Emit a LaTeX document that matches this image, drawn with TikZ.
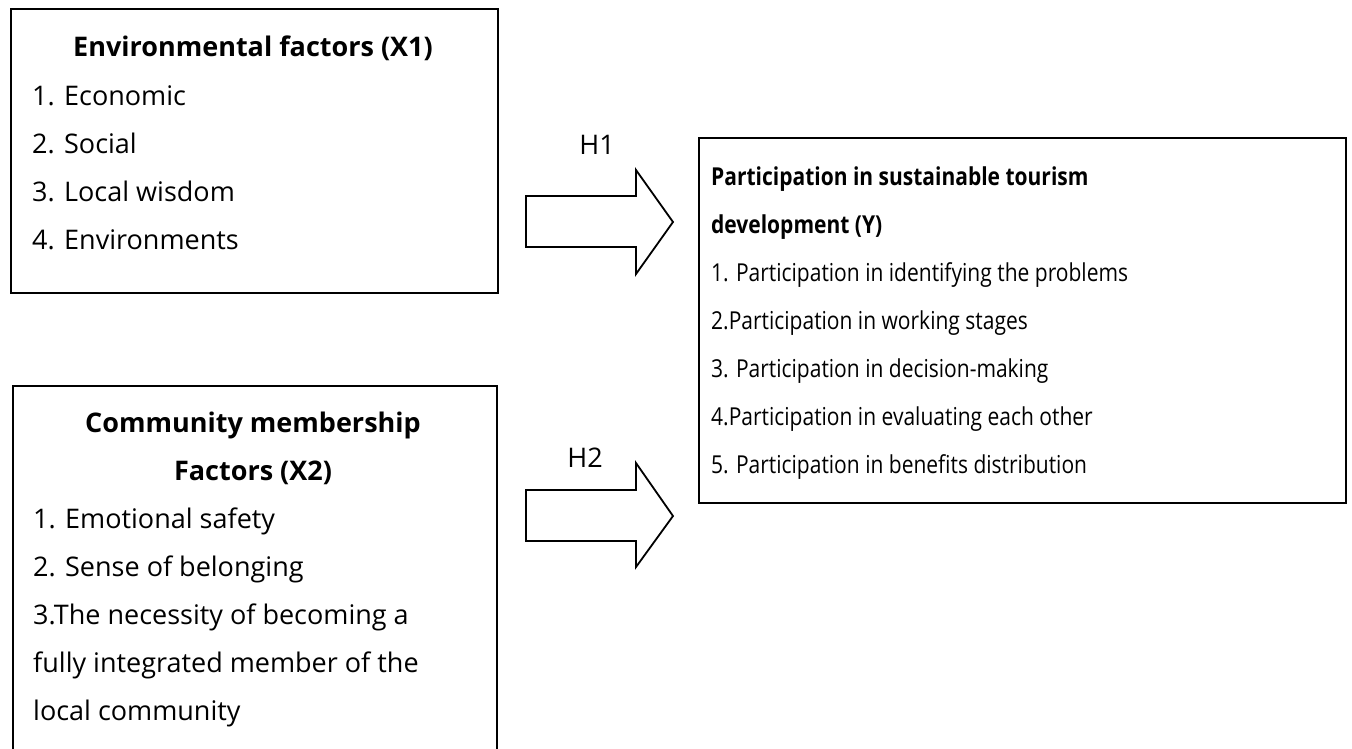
\documentclass[tikz,border=0pt]{standalone}
\usepackage{fontspec}
\setmainfont{Open Sans}
\newfontfamily\yfont{Open Sans}[FakeStretch=0.85]
\begin{document}
\begin{tikzpicture}[x=1pt,y=-1pt,
  box/.style={draw, line width=1.8pt, inner sep=0pt, anchor=north west},
  item/.style={font=\fontsize{27}{30}\selectfont, inner sep=0pt, anchor=base west},
  ttl/.style={font=\bfseries\fontsize{27}{30}\selectfont, inner sep=0pt, anchor=base},
  yitem/.style={font=\yfont\fontsize{24.7}{30}\selectfont, inner sep=0pt, anchor=base west},
  yttl/.style={font=\yfont\bfseries\fontsize{24.7}{30}\selectfont, inner sep=0pt, anchor=base west},
  hlab/.style={font=\fontsize{27}{30}\selectfont, inner sep=0pt},
  blockarrow/.style={draw, line width=1.8pt, line join=miter}]
\useasboundingbox (0,0) rectangle (1352,748);
\clip (0,0) rectangle (1352,748);
% Box X1
\node[box, minimum width=487pt, minimum height=284pt] (x1) at (10,8) {};
\node[ttl] (x1t) at (253,56) {Environmental factors (X1)};
\node[item] (x1a) at (32,105) {1. Economic};
\node[item] (x1b) at (32,153) {2. Social};
\node[item] (x1c) at (32,201) {3. Local wisdom};
\node[item] (x1d) at (32,249) {4. Environments};
% Box X2
\node[box, minimum width=484pt, minimum height=400pt] (x2) at (12,385) {};
\node[ttl] (x2t) at (253,432) {Community membership};
\node[ttl] (x2u) at (253,480) {Factors (X2)};
\node[item] (x2a) at (33,528) {1. Emotional safety};
\node[item] (x2b) at (33,576) {2. Sense of belonging};
\node[item] (x2c) at (33,624) {3.The necessity of becoming a};
\node[item] (x2d) at (33,672) {fully integrated member of the};
\node[item] (x2e) at (33,720) {local community};
% Box Y
\node[box, minimum width=647pt, minimum height=365pt] (y) at (698,137) {};
\node[yttl] (yt) at (711,185) {Participation in sustainable tourism};
\node[yttl] (yu) at (711,233) {development (Y)};
\node[yitem] (ya) at (711,281) {1. Participation in identifying the problems};
\node[yitem] (yb) at (711,329) {2.Participation in working stages};
\node[yitem] (yc) at (711,377) {3. Participation in decision-making};
\node[yitem] (yd) at (711,425) {4.Participation in evaluating each other};
\node[yitem] (ye) at (711,473) {5. Participation in benefits distribution};
% Block arrows
\coordinate (h1) at (526,196);
\draw[blockarrow] (h1) -- ++(110,0) -- ++(0,-26) -- ++(37,52) -- ++(-37,52) -- ++(0,-27) -- ++(-110,0) -- cycle;
\node[hlab] (h1l) at (597,145) {H1};
\coordinate (h2) at (526,490);
\draw[blockarrow] (h2) -- ++(110,0) -- ++(0,-27) -- ++(37,53) -- ++(-37,51) -- ++(0,-26) -- ++(-110,0) -- cycle;
\node[hlab] (h2l) at (585,458) {H2};
\end{tikzpicture}
\end{document}
